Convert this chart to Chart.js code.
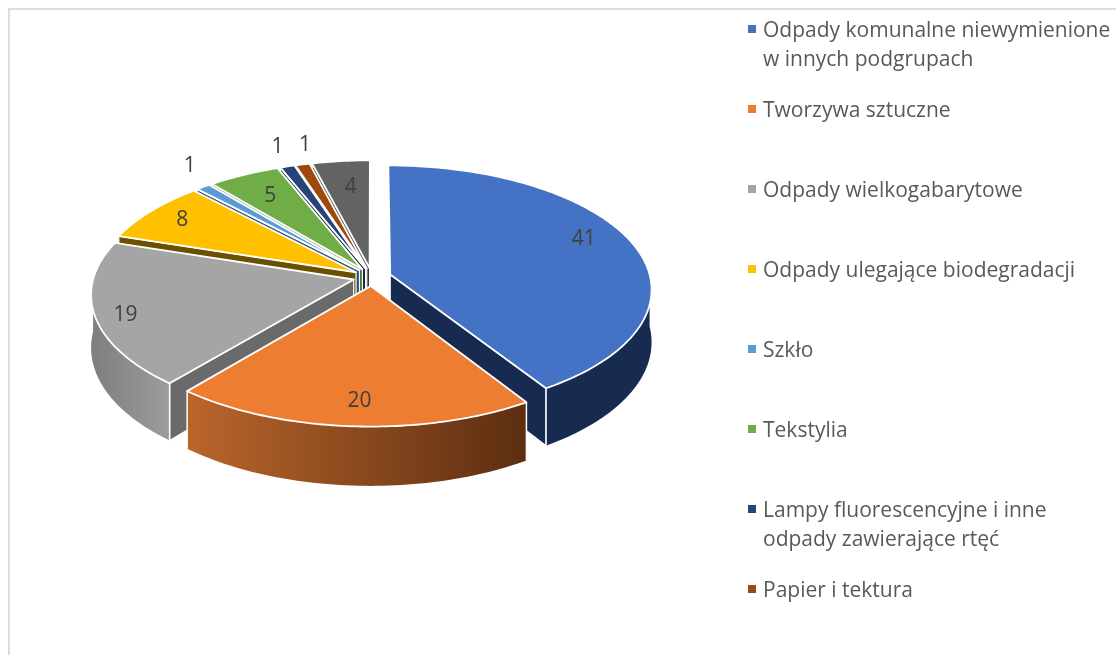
<!DOCTYPE html>
<html>
<head>
<meta charset="utf-8">
<title>Odpady</title>
<script src="https://cdn.jsdelivr.net/npm/chart.js@4/dist/chart.umd.min.js"></script>
<style>
    html, body { margin: 0; padding: 0; background: #fff; overflow: hidden; }
    #wrap { position: relative; width: 1116px; height: 655px; }
    #frame { position: absolute; left: 8px; top: 8px; width: 1108px; height: 647px;
             border-left: 2px solid #dcdcdc; border-top: 2px solid #dcdcdc; box-sizing: border-box; }
    #myChart { position: absolute; left: 0; top: 0; }
    #legend { position: absolute; left: 746px; top: 15px; font-family: "Open Sans", sans-serif;
              font-size: 21px; line-height: 29px; color: #595959; }
    .item { position: relative; padding-left: 17px; height: 80px; white-space: nowrap; }
    .item i { position: absolute; left: 2px; top: 10px; width: 8px; height: 8px; }
</style>
</head>
<body>
<div id="wrap">
    <div id="frame"></div>
    <canvas id="myChart" width="1116" height="655"></canvas>
    <div id="legend"></div>
</div>
<script>
// the ninth slice has no legend entry in the picture, its entry is cut off
const categories = [
    ['Odpady komunalne niewymienione', 'w innych podgrupach'],
    ['Tworzywa sztuczne'],
    ['Odpady wielkogabarytowe'],
    ['Odpady ulegające biodegradacji'],
    ['Szkło'],
    ['Tekstylia'],
    ['Lampy fluorescencyjne i inne', 'odpady zawierające rtęć'],
    ['Papier i tektura'],
];
const values = [41, 20, 19, 8, 1, 5, 1, 1, 4];

const colors = ['#4472C4', '#ED7D31', '#A5A5A5', '#FFC000', '#5B9BD5', '#70AD47', '#264478', '#9E480E', '#636363'];
const sideColors = ['#172B50', '#5E2F10', '#6A6A6A', '#6B5000', '#2F5478', '#3F6328', '#14264A', '#5A2A08', '#3A3A3A'];

// where the value label sits: share of the radius and a small turn in degrees
const labelRadius = [0.83, 0.84, 0.89, 0.84, 1.21, 0.76, 1.21, 1.20, 0.74];
const labelTurn = [-5, -1, -2, 0, 4, 0, 1, 3, 1];

const explode = 19;
const squash = 0.47;
const persp = 0.115;
const depth = 52;

// tilted view of the pie, works from the angles the chart worked out
function point(arc, a, r, z) {
    let R = arc.outerRadius;
    let mid = (arc.startAngle + arc.endAngle) / 2;
    let u = r * Math.cos(a) + explode * Math.cos(mid);
    let v = r * Math.sin(a) + explode * Math.sin(mid);
    let s = 1 / (1 - persp * v / R);
    return { x: arc.x + u * s, y: arc.y + v * squash * s + z * depth * s };
}

function quad(ctx, arc, a) {
    let R = arc.outerRadius;
    let p = [point(arc, a, 0, 0), point(arc, a, R, 0), point(arc, a, R, 1), point(arc, a, 0, 1)];
    ctx.beginPath();
    p.forEach((q, i) => i ? ctx.lineTo(q.x, q.y) : ctx.moveTo(q.x, q.y));
    ctx.closePath();
}

function outerWallFill(ctx, i, x0, x1) {
    if (i !== 1 && i !== 2) return sideColors[i];
    let g = ctx.createLinearGradient(x0, 0, x1, 0);
    if (i === 1) {
        g.addColorStop(0, '#BA652C');
        g.addColorStop(1, '#5C2E10');
    } else {
        g.addColorStop(0, '#7E7E7E');
        g.addColorStop(1, '#9C9C9C');
    }
    return g;
}

function drawSlice(ctx, arc, i) {
    let R = arc.outerRadius;
    let a0 = arc.startAngle;
    let a1 = arc.endAngle;
    ctx.lineJoin = 'round';

    // cut faces turned to the viewer
    ctx.fillStyle = sideColors[i];
    ctx.strokeStyle = '#fff';
    ctx.lineWidth = 1.2;
    if (Math.cos(a0) < -0.001) {
        quad(ctx, arc, a0);
        ctx.fill();
        ctx.stroke();
    }
    if (Math.cos(a1) > 0.001) {
        quad(ctx, arc, a1);
        ctx.fill();
        ctx.stroke();
    }

    // outer wall, front half only
    let from = Math.max(a0, 0);
    let to = Math.min(a1, Math.PI);
    if (to > from) {
        let top = [];
        let bottom = [];
        for (let k = 0; k <= 60; k++) {
            let a = from + (to - from) * k / 60;
            top.push(point(arc, a, R, 0));
            bottom.push(point(arc, a, R, 1));
        }
        let xs = top.map(q => q.x);
        ctx.fillStyle = outerWallFill(ctx, i, Math.min(...xs), Math.max(...xs));
        ctx.beginPath();
        top.forEach((q, k) => k ? ctx.lineTo(q.x, q.y) : ctx.moveTo(q.x, q.y));
        bottom.reverse().forEach(q => ctx.lineTo(q.x, q.y));
        ctx.closePath();
        ctx.fill();
        ctx.lineWidth = 1.5;
        [from, to].forEach(a => {
            if (a === 0 || a === Math.PI) return;
            let p = point(arc, a, R, 0);
            let q = point(arc, a, R, 1);
            ctx.beginPath();
            ctx.moveTo(p.x, p.y);
            ctx.lineTo(q.x, q.y);
            ctx.stroke();
        });
    }

    // top face
    ctx.beginPath();
    let tip = point(arc, a0, 0, 0);
    ctx.moveTo(tip.x, tip.y);
    let n = Math.max(4, Math.ceil((a1 - a0) * 60));
    for (let k = 0; k <= n; k++) {
        let q = point(arc, a0 + (a1 - a0) * k / n, R, 0);
        ctx.lineTo(q.x, q.y);
    }
    ctx.closePath();
    ctx.fillStyle = colors[i];
    ctx.fill();
    ctx.lineWidth = 1.8;
    ctx.strokeStyle = '#fff';
    ctx.stroke();
}

const tiltedPie = {
    id: 'tiltedPie',
    beforeDatasetsDraw(chart) {
        let ctx = chart.ctx;
        let arcs = chart.getDatasetMeta(0).data;
        let order = arcs.map((arc, i) => i).sort((a, b) => {
            let ma = (arcs[a].startAngle + arcs[a].endAngle) / 2;
            let mb = (arcs[b].startAngle + arcs[b].endAngle) / 2;
            return Math.sin(ma) - Math.sin(mb);
        });
        ctx.save();
        order.forEach(i => drawSlice(ctx, arcs[i], i));

        ctx.fillStyle = '#404040';
        ctx.font = '21px "Open Sans"';
        ctx.textAlign = 'center';
        ctx.textBaseline = 'middle';
        arcs.forEach((arc, i) => {
            let mid = (arc.startAngle + arc.endAngle) / 2;
            let q = point(arc, mid + labelTurn[i] * Math.PI / 180, arc.outerRadius * labelRadius[i], 0);
            ctx.fillText(String(chart.data.datasets[0].data[i]), q.x, q.y);
        });
        ctx.restore();
        return false;
    }
};

const ctx = document.getElementById('myChart');

let ch = new Chart(ctx, {
    type: 'pie',
    data: {
        labels: values.map((v, i) => categories[i] ? categories[i].join(' ') : ''),
        datasets: [
            {
                data: values,
                backgroundColor: colors,
            },
        ]
    },
    options: {
        responsive: false,
        animation: false,
        radius: 260,
        layout: {
            padding: { left: 0, top: 0, right: 372, bottom: 101 }
        },
        plugins: {
            legend: { display: false },
            tooltip: { enabled: false }
        }
    },
    plugins: [tiltedPie]
});

let legendEl = document.getElementById('legend');
categories.forEach((c, i) => {
    let item = document.createElement('div');
    item.className = 'item';
    let mark = document.createElement('i');
    mark.style.background = colors[i];
    item.appendChild(mark);
    c.forEach((line, k) => {
        if (k) item.appendChild(document.createElement('br'));
        item.appendChild(document.createTextNode(line));
    });
    legendEl.appendChild(item);
});
</script>
</body>
</html>
